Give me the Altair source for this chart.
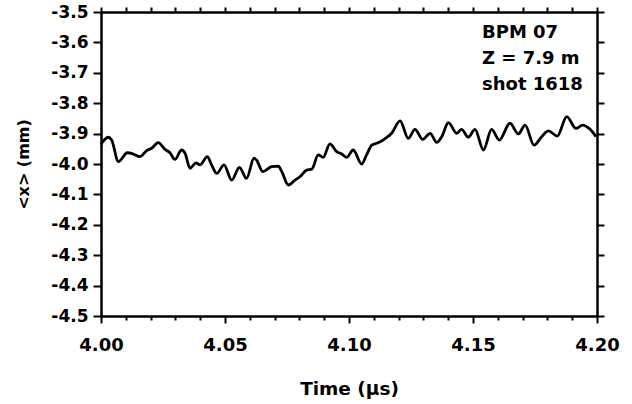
import altair as alt
import pandas as pd

time_us = [4.0000, 4.0029, 4.0043, 4.0070, 4.0106, 4.0130, 4.0157, 4.0184, 4.0204, 4.0231,
           4.0258, 4.0278, 4.0298, 4.0325, 4.0339, 4.0359, 4.0383, 4.0399, 4.0429, 4.0446,
           4.0467, 4.0496, 4.0527, 4.0558, 4.0587, 4.0617, 4.0627, 4.0652, 4.0688, 4.0715,
           4.0729, 4.0755, 4.0782, 4.0802, 4.0829, 4.0850, 4.0876, 4.0896, 4.0923, 4.0950,
           4.0971, 4.0991, 4.1017, 4.1051, 4.1071, 4.1092, 4.1112, 4.1138, 4.1172, 4.1206,
           4.1239, 4.1266, 4.1297, 4.1327, 4.1354, 4.1374, 4.1401, 4.1434, 4.1454, 4.1481,
           4.1508, 4.1542, 4.1575, 4.1606, 4.1649, 4.1683, 4.1710, 4.1746, 4.1777, 4.1804,
           4.1840, 4.1878, 4.1915, 4.1942, 4.1972, 4.1996]
x_mm = [-3.935, -3.912, -3.921, -3.992, -3.963, -3.967, -3.976, -3.956, -3.948, -3.930,
        -3.952, -3.963, -3.985, -3.954, -3.965, -4.014, -3.996, -4.003, -3.976, -4.003,
        -4.031, -4.003, -4.053, -4.011, -4.047, -3.981, -3.987, -4.025, -4.009, -4.007,
        -4.025, -4.069, -4.053, -4.042, -4.020, -4.017, -3.970, -3.978, -3.934, -3.959,
        -3.967, -3.978, -3.954, -4.000, -3.970, -3.938, -3.932, -3.921, -3.899, -3.858,
        -3.916, -3.886, -3.919, -3.899, -3.929, -3.910, -3.864, -3.899, -3.886, -3.912,
        -3.886, -3.954, -3.886, -3.921, -3.866, -3.901, -3.872, -3.938, -3.910, -3.891,
        -3.908, -3.844, -3.883, -3.872, -3.886, -3.910]

x_ticks = [4.00, 4.01, 4.02, 4.03, 4.04, 4.05, 4.06, 4.07, 4.08, 4.09, 4.10,
           4.11, 4.12, 4.13, 4.14, 4.15, 4.16, 4.17, 4.18, 4.19, 4.20]
y_ticks = [-4.5, -4.4, -4.3, -4.2, -4.1, -4.0, -3.9, -3.8, -3.7, -3.6, -3.5]
annotation = ["BPM 07", "Z = 7.9 m", "shot 1618"]

df = pd.DataFrame({"t": time_us, "x": x_mm})

FONT = "DejaVu Sans"

xs = alt.Scale(domain=[4.0, 4.2], nice=False, zero=False)
ys = alt.Scale(domain=[-4.5, -3.5], nice=False, zero=False)

common_axis = dict(domainColor="black", domainWidth=2.5, tickColor="black", tickWidth=2,
                   grid=False, labelFont=FONT, labelFontWeight="bold",
                   labelColor="black", titleFont=FONT, titleFontWeight="bold",
                   titleColor="black")

main = alt.Chart(df).mark_line(color="black", strokeWidth=2.8, interpolate="monotone").encode(
    x=alt.X("t:Q", scale=xs, axis=alt.Axis(
        orient="bottom", values=x_ticks, title="Time (\u03bcs)",
        labelExpr="round(datum.value*100) % 5 == 0 ? format(datum.value, '.2f') : ''",
        tickSize={"condition": {"test": "round(datum.value*100) % 5 == 0", "value": 7}, "value": 4},
        labelPadding=13, titlePadding=25, labelFontSize=18, titleFontSize=18.5,
        labelFlush=False, labelOverlap=False, **common_axis)),
    y=alt.Y("x:Q", scale=ys, axis=alt.Axis(
        orient="left", values=y_ticks, title="<x> (mm)",
        labelExpr="(datum.value < 0 ? '-' : '') + format(abs(datum.value), '.1f')",
        tickSize=8, labelPadding=5, titlePadding=19, labelFontSize=17, titleFontSize=16,
        labelFlush=False, labelOverlap=False, **common_axis)),
)

frame = alt.Chart(df).mark_line(strokeOpacity=0).encode(
    x=alt.X("t:Q", scale=xs, axis=alt.Axis(orient="top", values=x_ticks, labels=False,
                                           title=None, tickSize=5, **common_axis)),
    y=alt.Y("x:Q", scale=ys, axis=alt.Axis(orient="right", values=y_ticks, labels=False,
                                           title=None, tickSize=7, **common_axis)),
)

text = alt.Chart(pd.DataFrame({"a": [0]})).mark_text(
    align="left", baseline="alphabetic", font=FONT, fontWeight="bold", fontSize=18,
    lineHeight=25.8, color="black"
).encode(x=alt.value(381), y=alt.value(26), text=alt.value(annotation))

chart = alt.layer(main, frame, text).resolve_axis(x="independent", y="independent").properties(
    width=496, height=304,
    autosize=alt.AutoSizeParams(type="none"),
    padding={"left": 101, "top": 12, "right": 35, "bottom": 88},
).configure_view(stroke=None)

chart.save("out.html", embed_options={"renderer": "svg", "actions": False})
